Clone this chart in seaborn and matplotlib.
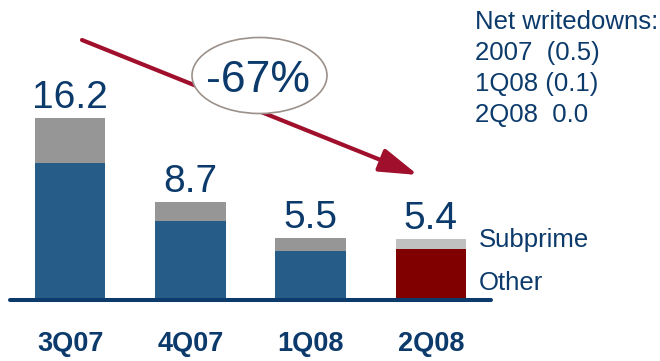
import matplotlib
matplotlib.use("Agg")
import matplotlib.pyplot as plt
from matplotlib.patches import Ellipse
import seaborn as sns

# Quarterly writedowns ($bn)
categories = ["3Q07", "4Q07", "1Q08", "2Q08"]
totals = [16.2, 8.7, 5.5, 5.4]
other = [12.2, 7.0, 4.4, 4.5]
net_lines = ["Net writedowns:", "2007  (0.5)", "1Q08 (0.1)", "2Q08  0.0"]
change_label = "-67%"

NAVY = "#0B3A6B"
BLUE = "#265C88"
GREY = "#969696"
LIGHT_GREY = "#C0C0C0"
DARK_RED = "#800000"
ARROW_RED = "#A0102C"

sns.set_theme(style="white")
plt.rcParams["font.family"] = ["Liberation Sans", "DejaVu Sans"]

W, H = 660, 361
fig = plt.figure(figsize=(W / 100, H / 100), dpi=100)

# Chart area: baseline at y=300px, x from 10px to 491px
ax = fig.add_axes([10 / W, 61 / H, 481 / W, 300 / H])

top_pal = {c: GREY for c in categories}
top_pal["2Q08"] = LIGHT_GREY
low_pal = {c: BLUE for c in categories}
low_pal["2Q08"] = DARK_RED

sns.barplot(x=categories, y=totals, hue=categories, palette=top_pal,
            width=0.585, saturation=1, legend=False, ax=ax, linewidth=0)
sns.barplot(x=categories, y=other, hue=categories, palette=low_pal,
            width=0.585, saturation=1, legend=False, ax=ax, linewidth=0)

ax.set_xlim(-0.5, 3.5)
ax.set_ylim(0, 300 / 11.23)
ax.set_yticks([])
ax.set_xlabel("")
ax.set_ylabel("")
for s in ["top", "left", "right"]:
    ax.spines[s].set_visible(False)
ax.spines["bottom"].set_color(NAVY)
ax.spines["bottom"].set_linewidth(2.9)
ax.spines["bottom"].set_capstyle("round")
ax.tick_params(axis="x", length=0, pad=22)
ax.set_xticks(range(len(categories)))
ax.set_xticklabels(categories, fontsize=19.5, fontweight="bold", color=NAVY)

for i, v in enumerate(totals):
    ax.text(i, v + 0.9, f"{v:.1f}", ha="center", va="baseline",
            fontsize=28, color=NAVY)

# Overlay in pixel coordinates for annotations
ov = fig.add_axes([0, 0, 1, 1], zorder=5)
ov.set_xlim(0, W)
ov.set_ylim(H, 0)
ov.axis("off")
ov.patch.set_alpha(0)

ov.annotate("", xy=(418, 175), xytext=(82, 40),
            arrowprops=dict(arrowstyle="-|>,head_length=1.3,head_width=0.4",
                            color=ARROW_RED, lw=3, mutation_scale=18,
                            shrinkA=0, shrinkB=0))
ov.add_patch(Ellipse((259.5, 75.5), 135, 76, facecolor="white",
                     edgecolor="#9C918A", lw=1.2, zorder=6))
ov.text(258, 92, change_label, ha="center", va="baseline", fontsize=32,
        color=NAVY, zorder=7)

for k, line in enumerate(net_lines):
    ov.text(475, 29 + 31 * k, line, ha="left", va="baseline", fontsize=18.5,
            color=NAVY)

ov.text(479, 247, "Subprime", ha="left", va="baseline", fontsize=18.5, color=NAVY)
ov.text(479, 290, "Other", ha="left", va="baseline", fontsize=18.5, color=NAVY)

fig.savefig("out.png", dpi=100)
